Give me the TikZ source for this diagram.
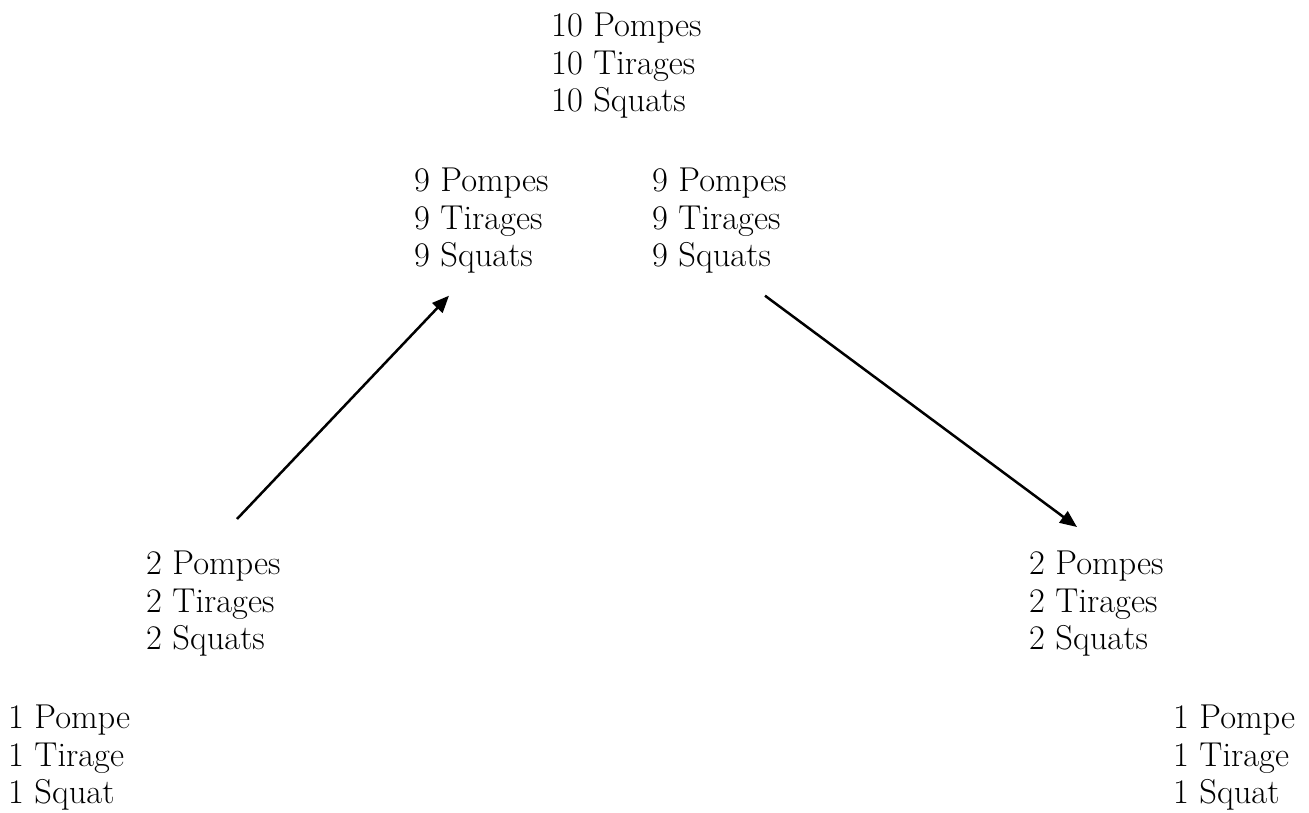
\documentclass[tikz,border=0pt]{standalone}
\usepackage{tikz}
\usetikzlibrary{arrows.meta,calc}

\begin{document}
\begin{tikzpicture}[
                x=1pt, y=-1pt,
                lbl/.style={anchor=north west, inner sep=0pt, align=left, font=\fontsize{34.5}{37.5}\selectfont},
                arr/.style={-{Triangle[length=17pt,width=14pt]}, line width=2.5pt},
            ]
            \useasboundingbox (0,0) rectangle (1309,812);
            \node[lbl] (top) at (551,13) {10 Pompes\\10 Tirages\\10 Squats};
            \node[lbl] (nineL) at (414,168) {9 Pompes\\9 Tirages\\9 Squats};
            \node[lbl] (nineR) at (652,168) {9 Pompes\\9 Tirages\\9 Squats};
            \node[lbl] (twoL) at (146,551) {2 Pompes\\2 Tirages\\2 Squats};
            \node[lbl] (twoR) at (1029,551) {2 Pompes\\2 Tirages\\2 Squats};
            \node[lbl] (oneL) at (8,705) {1 Pompe\\1 Tirage\\1 Squat};
            \node[lbl] (oneR) at (1173,705) {1 Pompe\\1 Tirage\\1 Squat};

            \coordinate (upS) at ($(twoL.north west)+(91,-32)$);
            \coordinate (upE) at ($(nineL.south west)+(35,22)$);
            \coordinate (dnS) at ($(nineR.south west)+(113,22)$);
            \coordinate (dnE) at ($(twoR.north west)+(48,-24)$);
            \draw[arr] (upS) -- (upE);
            \draw[arr] (dnS) -- (dnE);
        \end{tikzpicture}
\end{document}
